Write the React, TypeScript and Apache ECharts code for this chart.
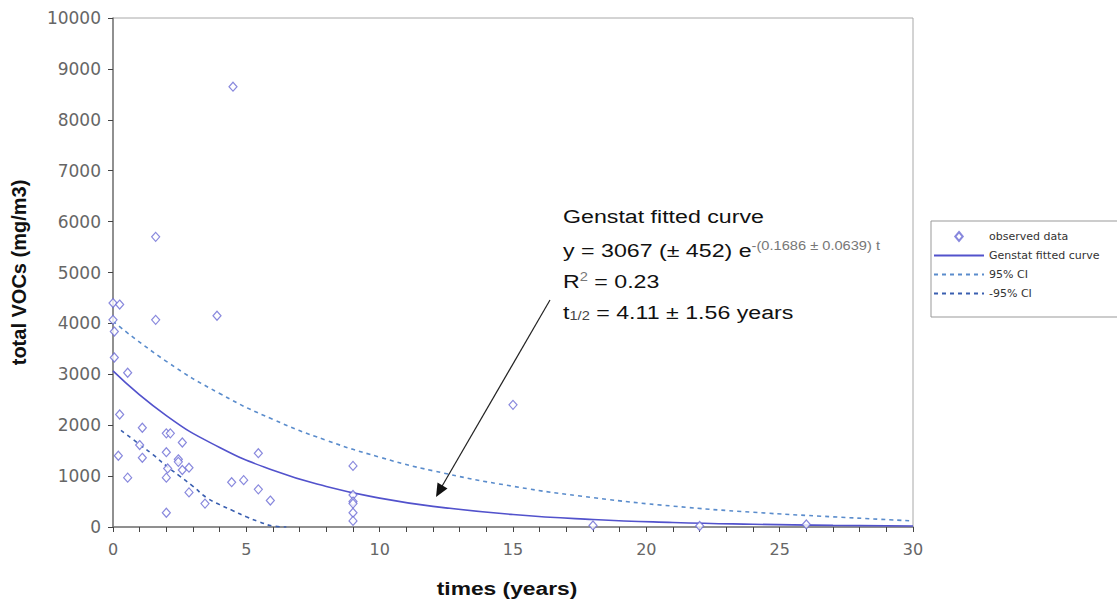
import React, { useEffect, useRef } from "react";
import * as echarts from "echarts";

// Observed data (years, total VOCs)
const obsX = [4.5, 1.6, 0.0, 0.25, 0.0, 1.6, 3.9, 0.05, 0.05, 0.55, 0.25, 1.1, 2.0, 2.15, 2.6, 1.0, 0.2, 1.1, 2.0, 2.45, 2.45, 2.05, 2.6, 2.85, 0.55, 2.0, 2.85, 3.45, 2.0, 5.45, 4.45, 4.9, 5.45, 5.9, 9.0, 9.0, 9.0, 9.0, 9.0, 9.0, 15.0, 18.0, 22.0, 26.0];
const obsY = [8650, 5700, 4400, 4370, 4070, 4070, 4150, 3840, 3330, 3030, 2210, 1950, 1840, 1840, 1660, 1610, 1400, 1360, 1470, 1330, 1280, 1150, 1120, 1165, 970, 970, 680, 460, 280, 1450, 880, 920, 740, 520, 1200, 630, 500, 460, 280, 120, 2400, 30, 20, 50];

// Fitted curve
const fitX = [0, 2, 4, 6, 8, 10, 12, 15, 18, 21, 24, 27, 30];
const fitY = [3067, 2189, 1563, 1115, 796, 568, 406, 245, 147, 89, 54, 32, 20];

// Upper 95% CI
const upX = [0, 2, 4, 6, 8, 10, 12, 15, 18, 21, 24, 27, 30];
const upY = [4040, 3255, 2623, 2113, 1703, 1372, 1105, 800, 578, 410, 290, 200, 120];

// Lower -95% CI
const loX = [0.3, 1, 1.5, 2, 2.5, 3, 3.5, 4, 4.5, 5, 5.5, 6, 6.5];
const loY = [1900, 1620, 1420, 1200, 1000, 800, 580, 440, 320, 200, 100, 20, 0];

const xTicks = { min: 0, max: 30, interval: 5 };
const yTicks = { min: 0, max: 10000, interval: 1000 };

const legendNames = ["observed data", "Genstat fitted curve", "95% CI", "-95% CI"];

const pairs = (xs: number[], ys: number[]) => xs.map((x, i) => [x, ys[i]]);

export default function App() {
  const ref = useRef<HTMLDivElement>(null);
  useEffect(() => {
    if (!ref.current) return;
    const chart = echarts.init(ref.current, null, { renderer: "svg" });
    const font = "Liberation Sans, Arial, sans-serif";
    const tickFont = "DejaVu Sans, sans-serif";
    const SX = 1.22;
    const main = { fontSize: 19, fontFamily: font, fill: "#111", lineHeight: 20, verticalAlign: "middle" };
    const sup = { fontSize: 12, fontFamily: font, fill: "#777", lineHeight: 10, verticalAlign: "top" };
    const sub = { fontSize: 12, fontFamily: font, fill: "#444", lineHeight: 10, verticalAlign: "bottom" };
    const annot = (y: number, text: string, rich?: any) => ({
      type: "text",
      x: 563,
      y,
      scaleX: SX,
      z: 10,
      style: rich
        ? { text, rich, textAlign: "left", textVerticalAlign: "top", verticalAlign: "top" }
        : { text, font: `19px ${font}`, fill: "#111", textAlign: "left", textVerticalAlign: "top", verticalAlign: "top", lineHeight: 20 },
    });
    chart.setOption({
      animation: false,
      backgroundColor: "#ffffff",
      textStyle: { fontFamily: font },
      grid: {
        left: 113,
        right: 204,
        top: 18,
        bottom: 74,
        show: true,
        borderColor: "#a8a8a8",
        borderWidth: 1,
      },
      xAxis: {
        type: "value",
        min: xTicks.min,
        max: xTicks.max,
        interval: xTicks.interval,
        axisLine: { lineStyle: { color: "#7a7a7a", width: 1.5 } },
        axisTick: { show: true, length: 5, lineStyle: { color: "#444" } },
        minorTick: { show: true, splitNumber: 5, length: 5, lineStyle: { color: "#444" } },
        splitLine: { show: false },
        axisLabel: { color: "#666", fontSize: 16, margin: 14, fontFamily: tickFont, formatter: (v: number) => String(v) },
      },
      yAxis: {
        type: "value",
        min: yTicks.min,
        max: yTicks.max,
        interval: yTicks.interval,
        name: "total VOCs (mg/m3)",
        nameLocation: "middle",
        nameGap: 84,
        nameTextStyle: { fontFamily: font, fontWeight: "bold", fontSize: 20, color: "#111" },
        axisLine: { show: true, lineStyle: { color: "#7a7a7a", width: 1.5 } },
        axisTick: { show: true, length: 5, lineStyle: { color: "#444" } },
        splitLine: { show: false },
        axisLabel: { color: "#666", fontSize: 17, margin: 12, fontFamily: tickFont, formatter: (v: number) => String(v) },
      },
      legend: {
        orient: "vertical",
        left: 931,
        top: 221,
        itemWidth: 50,
        itemHeight: 9,
        itemGap: 8,
        padding: [10, 40, 18, 2],
        borderColor: "#999",
        borderWidth: 1,
        textStyle: { fontSize: 11, color: "#333", fontFamily: tickFont },
        data: [
          { name: legendNames[0], icon: "path://M5,0L10,6L5,12L0,6Z" },
          { name: legendNames[1], itemStyle: { opacity: 0 } },
          { name: legendNames[2], itemStyle: { opacity: 0 } },
          { name: legendNames[3], itemStyle: { opacity: 0 } },
        ],
      },
      series: [
        {
          name: legendNames[0],
          type: "scatter",
          data: pairs(obsX, obsY),
          symbol: "diamond",
          symbolSize: [8, 9],
          itemStyle: { color: "#ffffff", borderColor: "#6a6ad4", borderWidth: 1.2 },
          z: 5,
        },
        {
          name: legendNames[1],
          type: "line",
          data: pairs(fitX, fitY),
          smooth: true,
          symbol: "none",
          lineStyle: { color: "#5252cc", width: 1.6 },
          itemStyle: { color: "#5252cc" },
        },
        {
          name: legendNames[2],
          type: "line",
          data: pairs(upX, upY),
          smooth: true,
          symbol: "none",
          lineStyle: { color: "#5a8ccc", width: 1.6, type: [4, 4] },
          itemStyle: { color: "#5a8ccc" },
        },
        {
          name: legendNames[3],
          type: "line",
          data: pairs(loX, loY),
          smooth: true,
          symbol: "none",
          lineStyle: { color: "#3a5fb0", width: 1.6, type: [4, 4] },
          itemStyle: { color: "#2a4aa0" },
        },
      ],
      graphic: [
        {
          type: "line",
          shape: { x1: 550, y1: 300, x2: 441, y2: 488 },
          style: { stroke: "#222", lineWidth: 1.2 },
          z: 10,
        },
        {
          type: "polygon",
          shape: { points: [[436, 497], [447.5, 488.5], [437.5, 482.5]] },
          style: { fill: "#111" },
          z: 10,
        },
        annot(206, "Genstat fitted curve"),
        annot(240, "{m|y = 3067 (± 452) e}{s|-(0.1686 ± 0.0639) t}", { m: main, s: sup }),
        annot(271, "{m|R}{s|2}{m| = 0.23}", { m: main, s: sup }),
        annot(302, "{m|t}{b|1/2}{m| = 4.11 ± 1.56 years}", { m: main, b: sub }),
        {
          type: "text",
          x: 507,
          y: 588,
          scaleX: 1.2,
          z: 10,
          style: {
            text: "times (years)",
            font: `bold 19px ${font}`,
            fill: "#111",
            textAlign: "center",
            textVerticalAlign: "middle",
            verticalAlign: "middle",
          },
        },
      ],
    });
    return () => chart.dispose();
  }, []);
  return (
    <div
      ref={ref}
      style={{ position: "fixed", left: 0, top: 0, width: 1117, height: 601, background: "#fff" }}
    />
  );
}
